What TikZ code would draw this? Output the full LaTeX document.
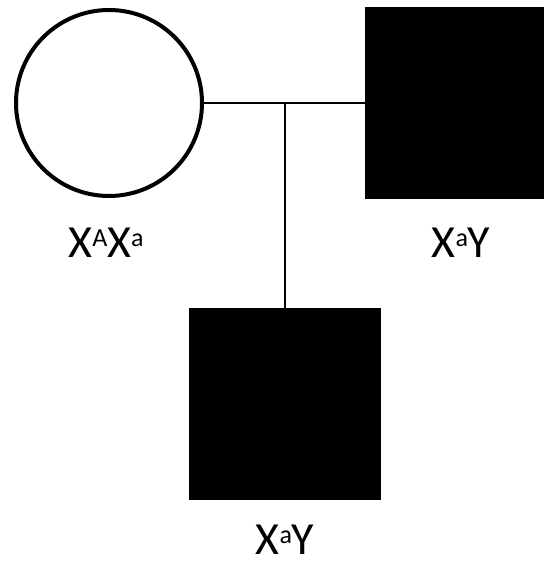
\documentclass[tikz,border=0pt]{standalone}
\usepackage{fontspec}
\setmainfont{Carlito}
\usetikzlibrary{positioning}
\newcommand{\allele}[1]{\raisebox{11pt}{\fontsize{26}{28}\selectfont #1}}
\tikzset{
female/.style={
	circle,
	draw=black,
	line width=4pt,
	fill=white,
	minimum size=186pt,
	inner sep=0pt
},
affected/.style={
	rectangle,
	draw=none,
	fill=black,
	minimum width=192pt,
	minimum height=192pt,
	inner sep=0pt
},
genotype/.style={
	font=\fontsize{46}{50}\selectfont,
	anchor=base,
	inner sep=0pt
},
line/.style={
	draw=black,
	line width=2pt
}
}
\begin{document}
\begin{tikzpicture}[x=1pt, y=1pt]
\useasboundingbox (0,0) rectangle (544,562);
% ===== Parents =====
\node (mother) [female]                                   at (109, 459) {};
\node (father) [affected, minimum width=179pt]            at (454.5, 459) {};
% ===== Child =====
\node (son)    [affected]                                 at (285, 158) {};
% ===== Genotypes =====
\node (gmother) [genotype] at (106, 304) {X\allele{A}X\allele{a}};
\node (gfather) [genotype] at (461, 304) {X\allele{a}Y};
\node (gson)    [genotype] at (285, 7)   {X\allele{a}Y};
% ===== Mating line and descent =====
\draw [line] (mother.east) -- (father.west);
\coordinate (mid) at (son.north |- mother.east);
\draw [line] (mid) -- (son.north);
\end{tikzpicture}
\end{document}
